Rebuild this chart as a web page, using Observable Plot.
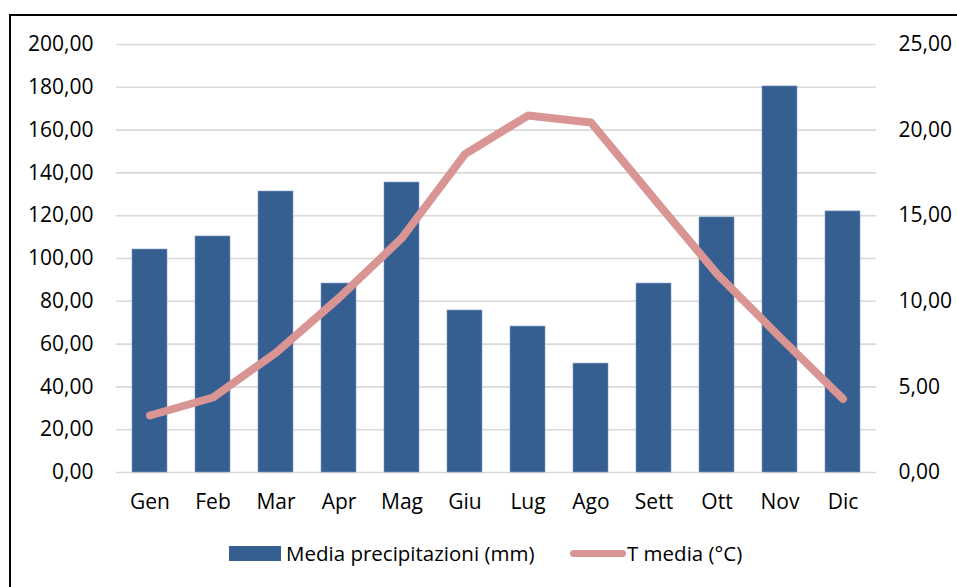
<!DOCTYPE html>
<html>
<head>
<meta charset="utf-8">
<script src="https://cdn.jsdelivr.net/npm/d3@7"></script>
<script src="https://cdn.jsdelivr.net/npm/@observablehq/plot@0.6"></script>
<style>
  html, body { margin: 0; padding: 0; background: #fff; overflow: hidden; }
  #wrap { position: relative; width: 957px; height: 587px; font-family: "Open Sans", sans-serif; }
  #frame { position: absolute; left: 9px; top: 14px; width: 1000px; height: 700px; border: 2px solid #000; }
  #chart { position: absolute; left: 0; top: 0; }
  #legend { position: absolute; left: 0; top: 538px; width: 957px; height: 30px; font-size: 20.5px; color: #000; }
  .item { position: absolute; top: 0; display: flex; align-items: center; height: 30px; }
  .sw-bar { width: 52px; height: 15px; background: #365f91; margin-right: 5px; }
  .sw-line { width: 56px; height: 7px; background: #d99594; border-radius: 4px; margin-right: 1px; }
</style>
</head>
<body>
<div id="wrap">
  <div id="frame"></div>
  <div id="chart"></div>
  <div id="legend">
    <div class="item" style="left:229px"><div class="sw-bar"></div><span id="lab1"></span></div>
    <div class="item" style="left:570px"><div class="sw-line"></div><span id="lab2"></span></div>
  </div>
</div>
<script>
const months = ["Gen","Feb","Mar","Apr","Mag","Giu","Lug","Ago","Sett","Ott","Nov","Dic"];
const precip = [104.2, 110.3, 131.3, 88.3, 135.5, 75.7, 68.2, 50.9, 88.3, 119.2, 180.4, 122.0];
const temp = [3.33, 4.38, 7.0, 10.2, 13.7, 18.6, 20.85, 20.44, 16.0, 11.6, 7.9, 4.3];
const leftTicks = [0, 20, 40, 60, 80, 100, 120, 140, 160, 180, 200];
const rightTicks = [0, 5, 10, 15, 20, 25];
const seriesNames = ["Media precipitazioni (mm)", "T media (°C)"];

const barColor = "#365f91";
const lineColor = "#d99594";
const scaleRatio = 200 / 25;

document.getElementById("lab1").textContent = seriesNames[0];
document.getElementById("lab2").textContent = seriesNames[1];

const data = months.map((m, i) => ({month: m, p: precip[i], t: temp[i]}));
const fmt = v => v.toFixed(2).replace(".", ",");

const chart = Plot.plot({
  width: 957,
  height: 530,
  marginLeft: 116,
  marginRight: 81,
  marginTop: 44,
  marginBottom: 58,
  style: {fontFamily: "'Open Sans', sans-serif", fontSize: "21px", color: "#000", background: "transparent", overflow: "visible"},
  x: {domain: months, paddingInner: 0.45, paddingOuter: 0.225, label: null},
  y: {domain: [0, 200], label: null},
  marks: [
    Plot.ruleY(leftTicks, {stroke: "#d9d9d9", strokeWidth: 1.6}),
    Plot.barY(data, {x: "month", y: "p", fill: barColor, stroke: "#7f9bc2", strokeWidth: 0.6}),
    Plot.line(data, {x: "month", y: d => d.t * scaleRatio, stroke: lineColor, strokeWidth: 8, strokeLinecap: "round", strokeLinejoin: "round"}),
    Plot.axisY(leftTicks, {anchor: "left", tickSize: 0, tickPadding: 23, tickFormat: fmt, fontSize: 21, label: null}),
    Plot.axisY(rightTicks.map(t => t * scaleRatio), {anchor: "right", tickSize: 0, tickPadding: 22, tickFormat: v => fmt(v / scaleRatio), fontSize: 21, label: null}),
    Plot.axisX({tickSize: 0, tickPadding: 22, fontSize: 21, label: null})
  ]
});
document.getElementById("chart").appendChild(chart);
</script>
</body>
</html>
